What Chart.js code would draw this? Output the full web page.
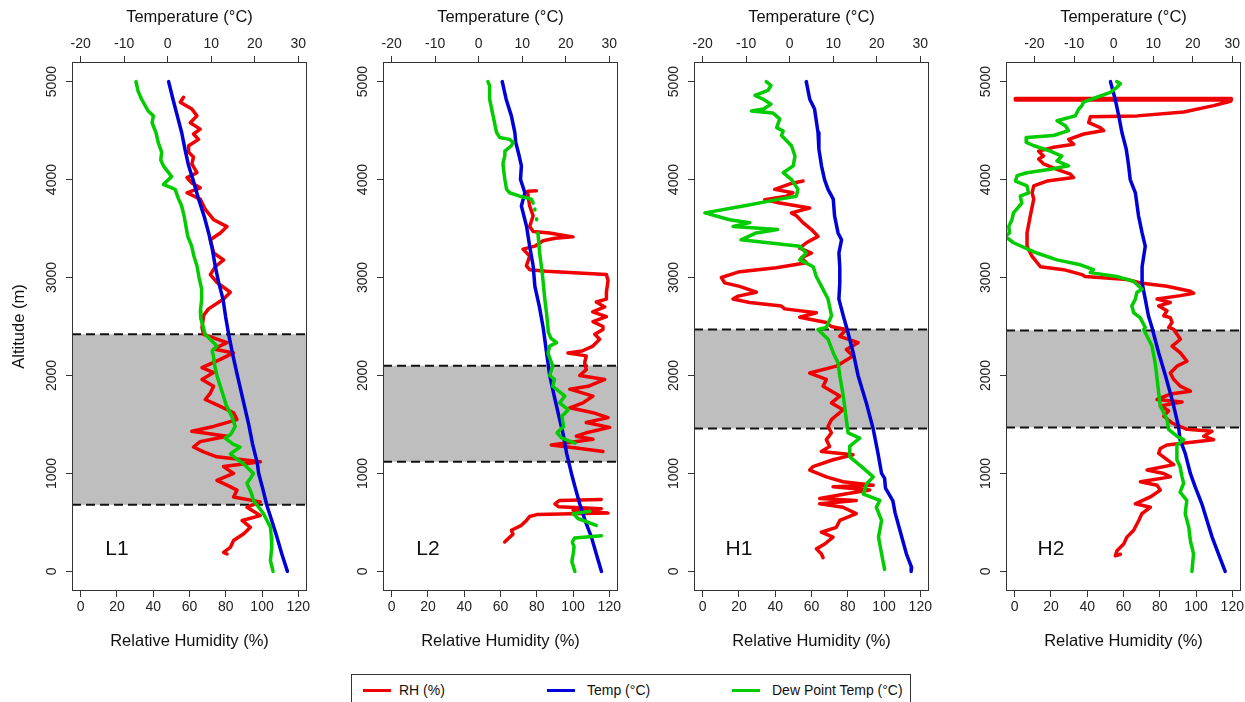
<!DOCTYPE html>
<html>
<head>
<meta charset="utf-8">
<script src="https://cdn.jsdelivr.net/npm/chart.js@4.4.1/dist/chart.umd.min.js"></script>
<style>
  html, body { margin: 0; padding: 0; background: #fff; }
  body { width: 1245px; height: 702px; overflow: hidden; position: relative;
         font-family: "Liberation Sans", Arial, sans-serif; }
  .panel { position: absolute; top: 0; width: 325px; height: 660px; }
  #legend { position: absolute; left: 351px; top: 674px; width: 560px; height: 44px;
            border: 1px solid #333; box-sizing: border-box; background: #fff; }
  #legend .ln { position: absolute; top: 14px; width: 28px; height: 3px; }
  #legend .lt { position: absolute; top: 7px; font-size: 14px; line-height: 16px; color: #111; white-space: nowrap; }
</style>
</head>
<body>
<canvas id="p0" class="panel" width="325" height="660"></canvas>
<canvas id="p1" class="panel" width="325" height="660"></canvas>
<canvas id="p2" class="panel" width="325" height="660"></canvas>
<canvas id="p3" class="panel" width="325" height="660"></canvas>
<div id="legend">
  <span class="ln" style="left:11px;background:#f00000"></span><span class="lt" style="left:47px">RH (%)</span>
  <span class="ln" style="left:195px;background:#0000d8"></span><span class="lt" style="left:235px">Temp (°C)</span>
  <span class="ln" style="left:380px;background:#00cc00"></span><span class="lt" style="left:420px">Dew Point Temp (°C)</span>
</div>
<script>
// Tick values
const ALT_TICKS = [0, 1000, 2000, 3000, 4000, 5000];
const RH_TICKS = [0, 20, 40, 60, 80, 100, 120];
const TEMP_TICKS = [-20, -10, 0, 10, 20, 30];

// Profiles: [altitude (m), value]; null marks a gap in the record
const L1_RH = [[4840,56.7],[4790,54.9],[4720,61.3],[4650,64.1],[4580,60.4],[4515,65.9],[4465,62.2],[4410,65.0],[4345,59.5],[4280,59.5],[4230,62.2],[4160,61.3],[4070,64.1],[4020,58.6],[3965,61.3],[3915,65.9],[3865,58.6],[3800,65.9],[3695,68.7],[3590,73.3],[3520,80.7],[3455,77.0],[3385,71.5],[3250,73.3],[3180,78.8],[3110,74.2],[3030,71.5],[2950,75.1],[2850,82.5],[2780,78.8],[2680,70.5],[2615,67.8],[2490,66.9],[2420,67.8],[2335,80.7],[2270,73.3],[2230,84.3],[2165,77.0],[2080,66.9],[2030,73.3],[1960,66.9],[1890,73.3],[1820,71.5],[1755,68.7],[1685,77.0],[1620,84.3],[1550,86.2],[1480,73.3],[1430,61.3],[1380,80.7],[1325,65.9],[1270,62.2],[1220,67.8],[1170,75.1],[1120,99.1],[1070,78.8],[1000,84.3],[930,75.1],[880,80.7],[830,86.2],[760,84.3],[710,99.0],[655,91.7],[570,99.0],[520,89.0],[450,93.6],[385,89.9],[315,84.3],[245,82.5],[195,78.8],[178,80.7]];
const L1_TEMP = [[5000,0.2],[4820,1.2],[4650,2.2],[4480,3.2],[4300,4.0],[4140,4.8],[4000,5.8],[3800,7.1],[3620,8.4],[3455,9.4],[3300,10.2],[3120,10.9],[2950,11.7],[2780,12.7],[2600,13.3],[2420,14.0],[2200,15.0],[2000,16.0],[1750,17.3],[1500,18.6],[1300,19.5],[1100,20.6],[1000,20.9],[850,21.8],[670,22.8],[520,23.9],[350,25.1],[180,26.2],[0,27.5]];
const L1_DEW = [[5000,-7.3],[4900,-6.8],[4820,-6.0],[4700,-4.5],[4650,-3.3],[4580,-3.6],[4480,-2.7],[4380,-2.2],[4280,-1.4],[4200,-1.6],[4140,-1.0],[4030,0.9],[3950,-1.0],[3900,1.7],[3800,2.5],[3730,3.2],[3620,3.8],[3520,4.2],[3420,4.6],[3320,5.5],[3220,6.0],[3120,6.7],[3000,7.2],[2880,7.8],[2780,7.8],[2660,7.5],[2580,7.6],[2490,8.2],[2420,8.6],[2360,10.0],[2300,11.3],[2250,10.2],[2200,10.5],[2100,10.8],[2000,11.3],[1900,12.0],[1790,12.8],[1700,13.4],[1585,14.7],[1480,15.5],[1400,14.5],[1360,13.2],[1300,15.0],[1270,16.6],[1200,14.4],[1150,15.8],[1100,17.4],[1000,19.7],[950,19.0],[900,18.2],[800,19.2],[725,19.7],[650,21.0],[590,22.0],[450,23.6],[350,23.8],[245,23.9],[110,23.6],[0,24.2]];

const L2_RH = [[3885,79.8],[3880,75.0],[3830,75.2],[3730,76.1],[3630,78.0],[3520,76.1],[3470,78.0],[3455,87.0],[3415,100.0],[3400,90.0],[3375,83.5],[3320,78.9],[3290,72.4],[3220,76.1],[3120,74.3],[3080,76.1],[3065,85.3],[3030,118.4],[2970,119.3],[2850,118.4],[2780,118.4],[2750,112.8],[2700,117.5],[2650,110.8],[2600,118.4],[2550,111.0],[2500,116.5],[2470,116.5],[2420,112.0],[2370,114.7],[2300,111.0],[2250,105.0],[2230,97.2],[2200,107.3],[2130,106.4],[2060,107.3],[2000,103.7],[1960,117.5],[1890,108.3],[1860,98.2],[1790,111.0],[1720,105.5],[1670,98.2],[1620,111.0],[1570,119.3],[1520,107.3],[1470,120.2],[1415,107.3],[1380,101.8],[1350,111.0],[1290,88.0],[1260,101.8],[1225,116.5],null,[735,115.6],[725,92.6],[690,90.0],[660,92.0],[640,115.6],[625,100.0],[595,119.3],[580,80.0],[560,76.0],[520,74.3],[470,71.5],[420,66.0],[380,66.9],[350,65.1],[300,62.3]];
const L2_TEMP = [[5000,5.4],[4820,6.3],[4650,7.5],[4480,8.3],[4380,8.5],[4240,9.3],[4140,9.8],[4000,9.6],[3865,10.6],[3730,9.8],[3520,11.0],[3320,11.7],[3120,12.5],[2910,12.9],[2710,13.9],[2490,14.8],[2230,15.6],[2000,16.3],[1800,17.3],[1550,18.6],[1400,19.4],[1205,20.2],[1000,21.3],[850,22.2],[690,23.2],[500,24.6],[350,25.9],[180,27.0],[0,28.2]];
const L2_DEW = [[5000,2.1],[4960,2.5],[4820,2.5],[4650,3.3],[4480,4.1],[4430,4.8],[4410,7.1],[4380,7.9],[4345,7.5],[4290,6.0],[4240,6.0],[4175,5.6],[4140,5.6],[4000,6.0],[3900,6.4],[3865,7.1],[3830,9.4],[3800,12.1],[3760,12.5],null,[3700,12.9],[3690,12.9],null,[3600,13.3],[3590,13.3],null,[3455,13.6],[3250,14.0],[3045,14.6],[2770,15.2],[2630,15.6],[2490,15.9],[2440,16.0],[2380,16.6],[2335,17.9],[2300,16.3],[2230,15.9],[2095,17.0],[2000,16.3],[1960,17.4],[1890,17.0],[1790,19.8],[1720,18.6],[1650,20.6],[1585,19.1],[1480,19.5],[1415,18.0],[1360,19.1],[1310,22.1],null,[615,25.6],[590,21.7],[540,22.8],[470,27.0],null,[365,28.2],[340,22.0],[300,21.5],[250,21.9],[180,21.7],[100,21.4],[0,22.1]];

const H1_RH = [[3985,55.3],[3960,48.9],[3900,39.7],[3865,49.8],[3830,46.1],[3795,34.2],[3760,42.5],[3710,59.0],[3660,48.9],[3630,51.7],[3560,55.3],[3490,60.0],[3420,63.6],[3355,57.2],[3300,53.5],[3250,60.0],[3200,54.4],[3150,57.2],[3100,40.6],[3060,20.4],[3000,10.3],[2945,12.1],[2910,20.4],[2850,29.6],[2810,19.5],[2780,16.7],[2745,25.9],[2710,43.4],[2680,45.2],[2640,62.7],[2595,53.5],[2540,68.2],[2500,70.9],[2470,79.2],[2400,75.6],[2335,85.7],[2265,79.2],[2200,82.9],[2095,73.7],[2025,59.0],[1960,68.2],[1890,66.4],[1790,75.6],[1720,71.0],[1650,77.4],[1550,71.0],[1480,69.1],[1415,71.0],[1345,68.2],[1275,70.0],[1225,65.4],[1190,82.9],[1140,71.9],[1070,60.8],[1035,59.0],[965,68.2],[915,77.4],[880,94.0],[865,71.9],[830,92.1],[795,80.1],[745,64.5],[725,84.7],[690,64.5],[655,77.4],[590,84.7],[520,75.6],[450,73.7],[400,65.4],[350,71.9],[280,67.3],[230,62.7],[180,65.4],[140,66.4]];
const H1_TEMP = [[5000,3.8],[4820,4.6],[4720,5.7],[4480,6.5],[4310,6.7],[4140,7.3],[4000,8.0],[3900,8.8],[3800,10.0],[3630,10.3],[3455,11.1],[3385,11.9],[3250,11.3],[3110,11.5],[2945,11.5],[2780,11.3],[2610,12.3],[2470,13.2],[2230,14.6],[2000,15.7],[1720,17.6],[1450,19.2],[1200,20.3],[1000,21.1],[950,21.8],[850,22.0],[720,23.7],[600,24.2],[375,25.6],[180,26.8],[40,28.0],[0,27.9]];
const H1_DEW = [[5000,-5.4],[4960,-4.3],[4910,-5.0],[4860,-8.0],[4820,-6.1],[4770,-4.3],[4720,-6.0],[4700,-8.8],[4680,-3.9],[4620,-2.3],[4530,-3.0],[4495,-1.5],[4450,-1.9],[4345,0.4],[4240,1.2],[4140,0.8],[4070,-1.5],[4000,0.4],[3900,1.9],[3830,1.5],[3800,-2.3],[3730,-10.7],[3660,-19.5],[3590,-13.8],[3560,-9.2],[3520,-13.0],[3490,-2.8],[3455,-7.7],[3385,-11.2],[3320,2.3],[3250,3.8],[3180,2.3],[3110,5.4],[3010,6.1],[2910,7.3],[2780,8.8],[2610,9.6],[2490,8.4],[2470,6.5],[2370,8.8],[2230,10.0],[2130,11.1],[2000,11.5],[1790,12.3],[1550,13.0],[1415,13.4],[1360,16.1],[1280,13.8],[1170,13.8],[1070,16.5],[965,19.2],[895,17.7],[790,16.9],[725,20.7],[655,19.9],[520,21.1],[350,20.4],[180,21.1],[20,21.8]];

const H2_RH = [[4828,0.3],[4828,119.5],[4812,0.3],[4812,119.5],[4800,119.0],[4755,109.7],[4690,93.2],[4650,67.5],[4640,41.7],[4580,40.8],[4530,47.2],[4500,49.1],[4465,38.1],[4410,29.8],[4360,32.5],[4330,21.5],[4290,13.2],[4240,15.9],[4210,13.2],[4160,15.9],[4105,23.3],[4055,30.7],[4020,32.5],[3985,17.8],[3935,10.5],[3865,9.6],[3800,10.5],[3630,8.6],[3455,6.8],[3320,6.8],[3215,9.6],[3110,14.2],[3080,27.0],[3030,37.1],[3010,38.8],[2980,62.0],[2945,69.3],[2910,84.0],[2860,96.9],[2840,98.7],[2815,91.4],[2780,78.5],[2745,85.8],[2710,79.4],[2660,84.0],[2610,82.2],[2590,85.8],[2540,86.8],[2490,84.9],[2470,87.7],[2370,91.4],[2300,86.8],[2230,91.4],[2145,95.0],[2095,89.5],[2025,85.8],[1960,87.7],[1890,91.4],[1840,96.9],[1810,85.8],[1755,78.5],[1730,92.3],[1690,80.3],[1640,84.9],[1585,82.2],[1515,86.8],[1450,95.0],[1430,108.8],[1380,104.2],[1345,109.7],[1290,84.0],[1255,80.3],[1205,79.4],[1140,84.0],[1090,87.7],[1035,73.0],[1000,82.2],[965,85.8],[915,69.3],[880,78.5],[830,80.3],[760,74.8],[690,66.5],[655,74.8],[590,70.2],[520,68.4],[420,65.6],[350,61.9],[280,60.1],[210,56.4],[160,55.5],[175,58.3]];
const H2_TEMP = [[5000,-0.8],[4820,0.4],[4650,1.3],[4480,2.1],[4310,3.2],[4140,3.8],[4000,4.2],[3865,5.5],[3630,6.3],[3455,7.2],[3320,8.0],[3110,7.2],[2945,7.2],[2780,8.0],[2610,8.8],[2490,9.7],[2230,11.4],[2000,13.1],[1720,15.0],[1480,16.4],[1345,16.8],[1205,18.1],[1000,19.4],[865,20.6],[690,22.3],[520,23.6],[350,24.9],[180,26.5],[0,28.2]];
const H2_DEW = [[5000,0.8],[4980,1.7],[4940,0.8],[4890,-0.8],[4840,-4.2],[4790,-7.6],[4755,-8.0],[4720,-8.8],[4650,-9.7],[4600,-14.3],[4550,-12.2],[4500,-11.4],[4450,-15.2],[4430,-21.9],[4380,-22.1],[4345,-20.1],[4290,-16.0],[4240,-13.1],[4190,-14.3],[4140,-11.4],[4105,-16.0],[4070,-21.9],[4040,-24.4],[3985,-24.8],[3935,-21.9],[3865,-21.5],[3830,-23.6],[3760,-23.2],[3660,-25.3],[3590,-25.7],[3520,-26.5],[3455,-26.3],[3420,-27.4],[3355,-25.3],[3250,-19.4],[3180,-14.3],[3130,-8.4],[3080,-5.1],[3050,-5.9],[3010,0.8],[2960,5.1],[2880,7.2],[2850,5.9],[2780,5.5],[2710,4.6],[2640,5.1],[2590,6.7],[2490,8.0],[2470,7.6],[2300,9.7],[2130,10.5],[2000,10.9],[1820,11.4],[1690,11.8],[1550,13.5],[1450,13.9],[1380,16.0],[1345,17.7],[1290,16.0],[1225,16.0],[1140,16.0],[1070,16.8],[965,17.3],[900,17.7],[810,16.8],[725,18.5],[590,18.1],[450,19.0],[315,19.4],[180,20.2],[0,19.8]];

// Shaded layers [bottom, top] in metres
const BANDS = { L1: [680, 2420], L2: [1120, 2100], H1: [1460, 2470], H2: [1470, 2460] };

const FONT = '"Liberation Sans", Arial, sans-serif';
const RED = '#f00000', BLUE = '#0000d8', GREEN = '#00cc00';
const BOX_LEFT = [72, 383, 694, 1006];
const Y_AXIS_W = 72, PLOT_W = 235, RIGHT_PAD = 18;

const PANELS = [
  { name: 'L1', rh: L1_RH, temp: L1_TEMP, dew: L1_DEW, tMin: -22, tMax: 32 },
  { name: 'L2', rh: L2_RH, temp: L2_TEMP, dew: L2_DEW, tMin: -22, tMax: 32 },
  { name: 'H1', rh: H1_RH, temp: H1_TEMP, dew: H1_DEW, tMin: -22, tMax: 32 },
  { name: 'H2', rh: H2_RH, temp: H2_TEMP, dew: H2_DEW, tMin: -27.2, tMax: 32.2 }
];

function toXY(rows) {
  return rows.map(r => r === null ? { x: 0, y: null } : { x: r[1], y: r[0] });
}

function fixedTicks(values) {
  return scale => { scale.ticks = values.map(v => ({ value: v })); };
}

function decorPlugin(name) {
  return {
    id: 'decor',
    beforeDatasetsDraw(chart) {
      const { ctx, chartArea: a, scales } = chart;
      const band = BANDS[name];
      const yTop = scales.y.getPixelForValue(band[1]);
      const yBot = scales.y.getPixelForValue(band[0]);
      ctx.save();
      ctx.fillStyle = '#bebebe';
      ctx.fillRect(a.left, yTop, a.right - a.left, yBot - yTop);
      ctx.strokeStyle = '#111';
      ctx.lineWidth = 2;
      ctx.setLineDash([9, 5]);
      [yTop, yBot].forEach(yy => {
        ctx.beginPath();
        ctx.moveTo(a.left, yy);
        ctx.lineTo(a.right, yy);
        ctx.stroke();
      });
      ctx.restore();
    },
    afterDraw(chart) {
      const { ctx, chartArea: a, scales } = chart;
      ctx.save();
      // plot frame
      ctx.strokeStyle = '#333';
      ctx.lineWidth = 1;
      ctx.strokeRect(a.left + 0.5, a.top + 0.5, a.right - a.left - 1, a.bottom - a.top - 1);
      // altitude labels, written along the axis
      ctx.fillStyle = '#222';
      ctx.font = '14px ' + FONT;
      ctx.textAlign = 'center';
      ctx.textBaseline = 'middle';
      ALT_TICKS.forEach(v => {
        ctx.save();
        ctx.translate(a.left - 19.5, scales.y.getPixelForValue(v));
        ctx.rotate(-Math.PI / 2);
        ctx.fillText(String(v), 0, 0);
        ctx.restore();
      });
      // site label
      ctx.fillStyle = '#111';
      ctx.font = '21px ' + FONT;
      ctx.fillText(name, scales.x.getPixelForValue(20), scales.y.getPixelForValue(225));
      ctx.restore();
    }
  };
}

function axisGrid() {
  return { drawOnChartArea: false, drawTicks: true, tickLength: 6, color: '#333', tickColor: '#333', lineWidth: 1 };
}

PANELS.forEach((p, i) => {
  const canvas = document.getElementById('p' + i);
  canvas.style.left = (BOX_LEFT[i] - Y_AXIS_W) + 'px';
  const lineStyle = color => ({
    showLine: true, pointRadius: 0, pointHoverRadius: 0, borderWidth: 3.5,
    borderColor: color, backgroundColor: color, fill: false, tension: 0,
    borderJoinStyle: 'round', borderCapStyle: 'round', spanGaps: false
  });
  new Chart(canvas, {
    type: 'scatter',
    data: {
      datasets: [
        Object.assign({ label: 'Dew Point Temp (°C)', data: toXY(p.dew), xAxisID: 'xT', yAxisID: 'y' }, lineStyle(GREEN)),
        Object.assign({ label: 'Temp (°C)', data: toXY(p.temp), xAxisID: 'xT', yAxisID: 'y' }, lineStyle(BLUE)),
        Object.assign({ label: 'RH (%)', data: toXY(p.rh), xAxisID: 'x', yAxisID: 'y' }, lineStyle(RED))
      ]
    },
    options: {
      responsive: false,
      animation: false,
      devicePixelRatio: 1,
      events: [],
      layout: { padding: { left: 0, right: RIGHT_PAD, top: 0, bottom: 0 } },
      plugins: { legend: { display: false }, tooltip: { enabled: false } },
      scales: {
        y: {
          type: 'linear', position: 'left', min: -200, max: 5200, bounds: 'data',
          afterBuildTicks: fixedTicks(ALT_TICKS),
          afterFit: s => { s.width = Y_AXIS_W; },
          ticks: { display: false },
          grid: axisGrid(),
          border: { display: false },
          title: { display: i === 0, text: 'Altitude (m)', color: '#111',
                   font: { family: FONT, size: 16.5 }, padding: { top: 10, bottom: 0 } }
        },
        x: {
          type: 'linear', position: 'bottom', min: -4.8, max: 124.8, bounds: 'data',
          afterBuildTicks: fixedTicks(RH_TICKS),
          afterFit: s => { s.height = 69; },
          ticks: { color: '#222', font: { family: FONT, size: 14 }, padding: 2, maxRotation: 0, autoSkip: false },
          grid: axisGrid(),
          border: { display: false },
          title: { display: true, text: 'Relative Humidity (%)', color: '#111',
                   font: { family: FONT, size: 16.5 }, padding: { top: 0, bottom: 9 } }
        },
        xT: {
          type: 'linear', position: 'top', min: p.tMin, max: p.tMax, bounds: 'data',
          afterBuildTicks: fixedTicks(TEMP_TICKS),
          afterFit: s => { s.height = 62; },
          ticks: { color: '#222', font: { family: FONT, size: 14 }, padding: 3, maxRotation: 0, autoSkip: false },
          grid: axisGrid(),
          border: { display: false },
          title: { display: true, text: 'Temperature (°C)', color: '#111',
                   font: { family: FONT, size: 16.5 }, padding: { top: 8, bottom: 0 } }
        }
      }
    },
    plugins: [decorPlugin(p.name)]
  });
});
</script>
</body>
</html>
